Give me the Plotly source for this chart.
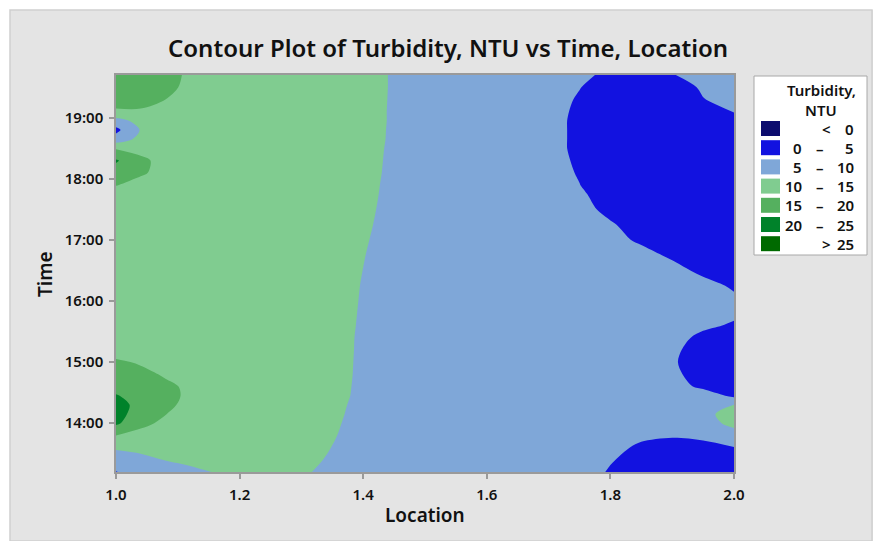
import plotly.graph_objects as go

# ---------------- data ----------------
location = [1.0, 1.04, 1.08, 1.12, 1.2, 1.3, 1.4, 1.5, 1.6, 1.7, 1.75, 1.8, 1.85, 1.9, 1.95, 2.0]

time_hours = [13.2, 13.4, 13.6, 13.8, 14.0, 14.15, 14.3, 14.45, 14.6, 14.8, 15.0, 15.2, 15.4,
              15.6, 15.8, 16.0, 16.25, 16.5, 16.75, 17.0, 17.25, 17.5, 17.75, 17.9, 18.1,
              18.3, 18.5, 18.65, 18.8, 18.95, 19.1, 19.3, 19.5, 19.7]

turbidity = [
    [4.8, 7.5, 8.5, 9.4, 10.8, 10.5, 7.56, 7.5, 7.5, 7.2, 7.0, 4.6, 3.0, 2.5, 3.0, 3.5],
    [8.0, 9.0, 10.1, 10.6, 11.5, 11.0, 8.14, 8.0, 7.5, 7.3, 7.0, 5.3, 3.5, 3.0, 3.5, 4.0],
    [10.5, 11.0, 11.5, 12.0, 12.3, 12.0, 7.83, 8.0, 7.6, 7.3, 7.0, 6.2, 4.3, 3.8, 4.3, 4.9],
    [15.1, 13.5, 12.5, 12.5, 12.5, 12.0, 8.55, 8.0, 7.6, 7.4, 7.2, 6.8, 5.8, 5.3, 5.5, 7.0],
    [20.9, 16.2, 14.0, 13.0, 12.5, 12.0, 8.92, 8.0, 7.6, 7.4, 7.3, 7.2, 7.0, 6.8, 7.0, 12.0],
    [22.0, 17.5, 15.1, 13.6, 12.6, 12.0, 9.14, 8.0, 7.6, 7.5, 7.4, 7.4, 7.5, 7.8, 8.33, 12.5],
    [22.2, 18.2, 15.8, 14.0, 12.7, 12.0, 9.30, 8.0, 7.6, 7.5, 7.4, 7.4, 7.5, 7.6, 7.5, 10.1],
    [20.3, 18.3, 16.1, 14.3, 12.8, 12.0, 9.47, 8.0, 7.6, 7.5, 7.4, 7.4, 7.5, 7.8, 7.5, 4.0],
    [18.5, 17.8, 15.9, 14.2, 12.8, 12.0, 9.53, 8.0, 7.6, 7.5, 7.4, 7.4, 7.4, 7.0, 4.0, 3.0],
    [17.0, 16.2, 14.5, 13.6, 12.7, 12.0, 9.59, 8.0, 7.6, 7.5, 7.4, 7.4, 7.3, 6.0, 3.0, 2.5],
    [15.7, 14.5, 13.2, 13.0, 12.6, 12.0, 9.62, 8.0, 7.6, 7.5, 7.4, 7.3, 7.2, 5.5, 2.8, 2.5],
    [13.0, 12.8, 12.5, 12.5, 12.5, 12.0, 9.65, 8.0, 7.6, 7.5, 7.4, 7.3, 7.3, 5.8, 3.2, 2.8],
    [12.8, 12.7, 12.5, 12.5, 12.5, 12.0, 9.67, 8.0, 7.6, 7.5, 7.4, 7.4, 7.4, 6.5, 4.0, 3.5],
    [12.8, 12.7, 12.6, 12.5, 12.5, 12.0, 9.73, 8.0, 7.6, 7.5, 7.4, 7.4, 7.3, 7.0, 5.8, 4.5],
    [12.8, 12.7, 12.6, 12.5, 12.5, 12.0, 9.78, 8.0, 7.6, 7.5, 7.4, 7.3, 7.3, 7.2, 6.5, 5.8],
    [12.8, 12.7, 12.6, 12.5, 12.5, 12.0, 9.83, 8.0, 7.6, 7.4, 7.3, 7.2, 7.0, 6.8, 6.4, 5.6],
    [12.8, 12.7, 12.6, 12.5, 12.5, 12.0, 9.89, 8.0, 7.5, 7.3, 7.2, 7.0, 6.8, 6.5, 6.0, 4.6],
    [12.8, 12.7, 12.6, 12.5, 12.5, 12.0, 9.98, 8.0, 7.5, 7.2, 7.1, 7.0, 6.8, 6.0, 4.3, 3.5],
    [12.9, 12.8, 12.7, 12.6, 12.5, 12.0, 10.08, 8.0, 7.4, 7.1, 7.0, 6.8, 6.0, 4.5, 3.3, 3.0],
    [12.9, 12.8, 12.7, 12.6, 12.5, 12.0, 10.22, 8.0, 7.4, 7.0, 6.8, 6.0, 4.5, 3.3, 2.9, 2.8],
    [13.0, 12.9, 12.8, 12.7, 12.5, 12.0, 10.38, 8.0, 7.4, 7.0, 6.3, 5.3, 3.8, 3.0, 2.7, 2.7],
    [13.0, 12.9, 12.8, 12.7, 12.5, 12.0, 10.53, 8.0, 7.3, 6.8, 6.0, 4.2, 3.3, 2.8, 2.6, 2.6],
    [13.0, 13.0, 13.0, 12.8, 12.5, 12.0, 10.67, 8.0, 7.2, 6.6, 5.5, 3.5, 3.0, 2.7, 2.6, 2.6],
    [15.2, 13.5, 13.0, 12.8, 12.5, 12.0, 10.74, 8.0, 7.2, 6.4, 5.05, 3.2, 2.9, 2.7, 2.6, 2.7],
    [18.0, 15.6, 13.5, 12.8, 12.5, 12.0, 10.86, 8.0, 7.1, 6.2, 4.77, 3.0, 2.8, 2.6, 2.6, 2.8],
    [20.5, 16.3, 13.0, 12.8, 12.5, 12.0, 10.94, 8.0, 7.1, 6.2, 4.49, 3.0, 2.7, 2.6, 2.6, 2.8],
    [14.5, 13.0, 12.8, 12.7, 12.5, 12.0, 11.03, 8.0, 7.1, 6.2, 4.2, 3.0, 2.7, 2.6, 2.6, 2.9],
    [7.0, 11.5, 12.5, 12.7, 12.5, 12.0, 11.13, 8.0, 7.1, 6.2, 4.2, 3.0, 2.7, 2.6, 2.7, 3.0],
    [3.8, 10.3, 12.3, 12.7, 12.5, 12.0, 11.17, 8.0, 7.1, 6.2, 4.2, 3.0, 2.7, 2.7, 2.9, 3.3],
    [8.0, 11.8, 12.5, 12.7, 12.5, 12.0, 11.23, 8.0, 7.1, 6.2, 4.2, 3.0, 2.7, 2.8, 3.3, 4.0],
    [14.3, 14.5, 13.0, 12.8, 12.5, 12.0, 11.23, 8.0, 7.1, 6.2, 4.38, 3.0, 2.7, 2.8, 3.8, 5.1],
    [17.0, 16.5, 15.0, 13.3, 12.6, 12.0, 11.28, 8.0, 7.2, 6.2, 4.7, 3.2, 2.8, 3.0, 4.9, 6.0],
    [17.5, 17.0, 16.3, 13.8, 12.7, 12.0, 11.33, 8.0, 7.3, 6.4, 5.1, 3.5, 3.0, 3.5, 5.4, 6.5],
    [18.0, 17.5, 17.0, 14.0, 12.8, 12.0, 11.33, 8.0, 7.4, 6.8, 6.0, 4.0, 4.0, 4.8, 6.5, 7.0],
]

band_colors = ["#0c0c6e", "#1212e0", "#7fa7d8", "#80cc90", "#55b05f", "#00822a", "#006a00"]
legend_low = ["", "0", "5", "10", "15", "20", ""]
legend_sep = ["<", "–", "–", "–", "–", "–", ">"]
legend_high = ["0", "5", "10", "15", "20", "25", "25"]

time_ticks = [14, 15, 16, 17, 18, 19]
time_tick_labels = ["14:00", "15:00", "16:00", "17:00", "18:00", "19:00"]
location_ticks = [1.0, 1.2, 1.4, 1.6, 1.8, 2.0]
location_tick_labels = ["1.0", "1.2", "1.4", "1.6", "1.8", "2.0"]

# ---------------- layout helpers ----------------
W, H = 873, 541
L, R, T, B = 116, 734, 75, 472
PW, PH = R - L, B - T


def px(x):
    return (x - L) / PW


def py(y):
    return (B - y) / PH


FONT = "Noto Sans"
TXT = "#111111"

n = len(band_colors)
colorscale = [[i / (n - 1), c] for i, c in enumerate(band_colors)]

fig = go.Figure()
fig.add_trace(go.Contour(
    x=location, y=time_hours, z=turbidity,
    colorscale=colorscale, showscale=False,
    contours=dict(start=0, end=25, size=5, coloring="fill", showlines=False),
    line=dict(width=0, smoothing=0.9),
    hoverinfo="skip",
))

shapes = []
annotations = []

# outer frame (white strips + grey border)
shapes.append(dict(type="rect", xref="paper", yref="paper", layer="above",
                   x0=px(0), x1=px(W), y0=py(10), y1=py(0),
                   fillcolor="white", line=dict(width=0)))
shapes.append(dict(type="rect", xref="paper", yref="paper", layer="above",
                   x0=px(0), x1=px(10), y0=py(H), y1=py(0),
                   fillcolor="white", line=dict(width=0)))
shapes.append(dict(type="rect", xref="paper", yref="paper", layer="above",
                   x0=px(10), x1=px(872), y0=py(541), y1=py(10),
                   fillcolor="rgba(0,0,0,0)", line=dict(color="#cfcfcf", width=1.5)))

# legend box
shapes.append(dict(type="rect", xref="paper", yref="paper", layer="above",
                   x0=px(754), x1=px(867), y0=py(255), y1=py(76),
                   fillcolor="white", line=dict(color="#a8a8a8", width=1)))
LF = dict(family=FONT, size=15, color=TXT, weight=600)
annotations.append(dict(xref="paper", yref="paper", x=px(821), y=py(90), text="Turbidity,",
                        showarrow=False, xanchor="center", yanchor="middle", font=LF))
annotations.append(dict(xref="paper", yref="paper", x=px(821), y=py(110), text="NTU",
                        showarrow=False, xanchor="center", yanchor="middle", font=LF))
row_y0 = 128.5
row_dy = 19.2
for i, c in enumerate(band_colors):
    yc = row_y0 + i * row_dy
    shapes.append(dict(type="rect", xref="paper", yref="paper", layer="above",
                       x0=px(761), x1=px(780), y0=py(yc + 7.5), y1=py(yc - 7.5),
                       fillcolor=c, line=dict(width=0)))
    if legend_low[i]:
        annotations.append(dict(xref="paper", yref="paper", x=px(804), y=py(yc),
                                text=legend_low[i], showarrow=False,
                                xanchor="right", yanchor="middle", font=LF))
        annotations.append(dict(xref="paper", yref="paper", x=px(820), y=py(yc),
                                text=legend_sep[i], showarrow=False,
                                xanchor="center", yanchor="middle", font=LF))
    else:
        annotations.append(dict(xref="paper", yref="paper", x=px(826), y=py(yc),
                                text=legend_sep[i], showarrow=False,
                                xanchor="center", yanchor="middle", font=LF))
    annotations.append(dict(xref="paper", yref="paper", x=px(856), y=py(yc),
                            text=legend_high[i], showarrow=False,
                            xanchor="right", yanchor="middle", font=LF))

# title and axis titles
annotations.append(dict(xref="paper", yref="paper", x=px(448), y=py(47),
                        text="Contour Plot of Turbidity, NTU vs Time, Location",
                        showarrow=False, xanchor="center", yanchor="middle",
                        font=dict(family=FONT, size=24, color=TXT, weight=600)))
annotations.append(dict(xref="paper", yref="paper", x=px(425), y=py(515),
                        text="Location", showarrow=False, xanchor="center", yanchor="middle",
                        font=dict(family=FONT, size=19, color=TXT, weight=600)))
annotations.append(dict(xref="paper", yref="paper", x=px(45), y=py(274),
                        text="Time", showarrow=False, xanchor="center", yanchor="middle",
                        textangle=-90,
                        font=dict(family=FONT, size=19, color=TXT, weight=600)))

axis_common = dict(showgrid=False, zeroline=False, showline=True, linecolor="#9a9a9a",
                   linewidth=1.5, mirror=True, ticks="outside", ticklen=5,
                   tickcolor="#9a9a9a", tickwidth=1.5, ticklabelstandoff=3,
                   tickfont=dict(family=FONT, size=15, color=TXT, weight=600))

fig.update_layout(
    width=W, height=H,
    margin=dict(l=L, r=W - R, t=T, b=H - B),
    paper_bgcolor="#e4e4e4",
    plot_bgcolor="#7fa7d8",
    showlegend=False,
    xaxis=dict(range=[1.0, 2.0], tickvals=location_ticks, ticktext=location_tick_labels,
               **axis_common),
    yaxis=dict(range=[13.2, 19.7], tickvals=time_ticks, ticktext=time_tick_labels,
               **axis_common),
    shapes=shapes,
    annotations=annotations,
)

fig.write_html(
    "out.html",
    config={"displayModeBar": False},
    post_script="document.body.style.margin='0';document.body.style.overflow='hidden';",
)
